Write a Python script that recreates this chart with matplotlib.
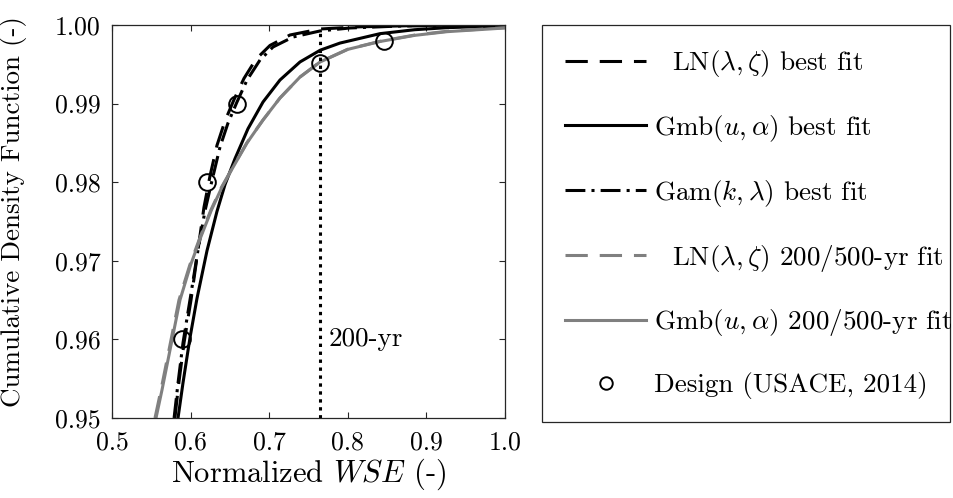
import matplotlib
matplotlib.use('Agg')
import matplotlib.pyplot as plt

plt.rcParams['font.family'] = 'serif'
plt.rcParams['font.serif'] = ['cmr10']
plt.rcParams['mathtext.fontset'] = 'cm'
plt.rcParams['axes.formatter.use_mathtext'] = True

# values
x_ln_best = [0.5800, 0.5850, 0.5916, 0.6005, 0.6094, 0.6170, 0.6247, 0.6336, 0.6438,
             0.6552, 0.6679, 0.6832, 0.7010, 0.7265, 0.7646, 0.8155, 0.8919, 1.0]
y_ln_best = [0.9500, 0.95445, 0.95954, 0.96501, 0.97137, 0.97680, 0.98080, 0.98470, 0.98780,
             0.99050, 0.99320, 0.99565, 0.99740, 0.99873, 0.99949, 0.99977, 0.99994, 1.0]

x_gmb_best = [0.5840, 0.5903, 0.5992, 0.6081, 0.6209, 0.6336, 0.6438, 0.6565, 0.6730,
              0.6921, 0.7137, 0.7392, 0.7650, 0.7900, 0.8410, 0.8850, 0.9262, 1.0]
y_gmb_best = [0.9500, 0.95445, 0.96020, 0.96520, 0.97130, 0.97630, 0.97970, 0.98300, 0.98680,
              0.99020, 0.99300, 0.99530, 0.99680, 0.99770, 0.99890, 0.99940, 0.99966, 0.99990]

x_gam_best = [0.5790, 0.5840, 0.5903, 0.5992, 0.6094, 0.6183, 0.6272, 0.6374, 0.6476,
              0.6590, 0.6718, 0.6883, 0.7048, 0.7303, 0.7646, 0.8028, 0.8664, 1.0]
y_gam_best = [0.9500, 0.95445, 0.95954, 0.96501, 0.97137, 0.97635, 0.98020, 0.98448, 0.98753,
              0.99020, 0.99300, 0.99555, 0.99720, 0.99847, 0.99924, 0.99962, 0.99987, 0.99999]

x_ln_200 = [0.5547, 0.5623, 0.5725, 0.5852, 0.5990, 0.6122, 0.6258, 0.6395, 0.6517,
            0.6715, 0.6921, 0.7137, 0.7392, 0.7646, 0.8000, 0.8410, 0.8850, 0.9262, 1.0]
y_ln_200 = [0.9500, 0.95356, 0.95865, 0.96501, 0.96947, 0.97303, 0.97646, 0.97939, 0.98155,
            0.98500, 0.98791, 0.99071, 0.99338, 0.99529, 0.99692, 0.99793, 0.99872, 0.99920, 0.99966]

x_gmb_200 = [0.5560, 0.5636, 0.5738, 0.5865, 0.6000, 0.6130, 0.6265, 0.6400, 0.6520,
             0.6718, 0.6921, 0.7137, 0.7392, 0.7646, 0.8000, 0.8410, 0.8850, 0.9262, 1.0]
y_gmb_200 = [0.9500, 0.95356, 0.95865, 0.96501, 0.96947, 0.97303, 0.97646, 0.97939, 0.98155,
             0.98500, 0.98791, 0.99071, 0.99338, 0.99529, 0.99690, 0.99790, 0.99868, 0.99915, 0.99962]

x_design = [0.589, 0.621, 0.659, 0.765, 0.846]
y_design = [0.960, 0.980, 0.990, 0.9952, 0.998]

x_200yr = 0.765
y_200yr = [0.95, 0.9994]

xticks = [0.5, 0.6, 0.7, 0.8, 0.9, 1.0]
xtick_labels = ['0.5', '0.6', '0.7', '0.8', '0.9', '1.0']
yticks = [0.95, 0.96, 0.97, 0.98, 0.99, 1.00]
ytick_labels = ['0.95', '0.96', '0.97', '0.98', '0.99', '1.00']

labels = [r'  LN($\lambda,\zeta$) best fit',
          r'Gmb($u,\alpha$) best fit',
          r'Gam($k,\lambda$) best fit',
          r'  LN($\lambda,\zeta$) 200/500-yr fit',
          r'Gmb($u,\alpha$) 200/500-yr fit',
          r'Design (USACE, 2014)']

W, H = 954, 498
fig = plt.figure(figsize=(W / 100.0, H / 100.0), dpi=100)
ax = fig.add_axes([112.0 / W, 1 - 418.0 / H, (505.0 - 112.0) / W, (418.0 - 25.0) / H])

lw = 2.2
gray = '0.5'
ax.plot(x_ln_best, y_ln_best, color='k', lw=lw, dashes=(7.3, 3.9), label=labels[0])
ax.plot(x_gmb_best, y_gmb_best, color='k', lw=lw, label=labels[1])
ax.plot(x_gam_best, y_gam_best, color='k', lw=lw, dashes=(6.5, 2.0, 1.0, 2.0), label=labels[2])
ax.plot(x_ln_200, y_ln_200, color=gray, lw=lw, dashes=(7.3, 3.9), label=labels[3])
ax.plot(x_gmb_200, y_gmb_200, color=gray, lw=lw, label=labels[4])
ax.plot(x_design, y_design, 'o', ms=12, mfc='none', mec='k', mew=1.4, label=labels[5])

ax.plot([x_200yr, x_200yr], y_200yr, color='k', lw=2.2, dashes=(1.1, 1.5))
ax.text(0.775, 0.960, '200-yr', va='center', ha='left', fontsize=19.5)

ax.set_xlim(0.5, 1.0)
ax.set_ylim(0.95, 1.0)
ax.set_xticks(xticks)
ax.set_xticklabels(xtick_labels)
ax.set_yticks(yticks)
ax.set_yticklabels(ytick_labels)
ax.tick_params(direction='in', top=True, right=True, length=4, width=0.8,
               color='0.15', labelcolor='k', labelsize=18.5)
ax.tick_params(axis='y', pad=8)
ax.tick_params(axis='x', pad=9)
for s in ax.spines.values():
    s.set_color('0.15')
    s.set_linewidth(0.9)

ax.set_xlabel(r'Normalized $WSE$ (-)', fontsize=22, labelpad=2)
ax.set_ylabel('Cumulative Density Function (-)', fontsize=19.5)
ax.yaxis.set_label_coords(-85.0 / 393, 0.525)

leg = ax.legend(loc='upper left', bbox_to_anchor=(542.0 / W, 0, (950.0 - 542.0) / W, 1 - 25.0 / H),
                bbox_transform=fig.transFigure, mode='expand', borderaxespad=0,
                fancybox=False, framealpha=1, edgecolor='0.15', fontsize=19.5,
                handlelength=3.0, handletextpad=0.3, labelspacing=1.25,
                borderpad=0.85, markerscale=0.75)
leg.get_frame().set_linewidth(0.9)

fig.savefig('out.png', dpi=100)
